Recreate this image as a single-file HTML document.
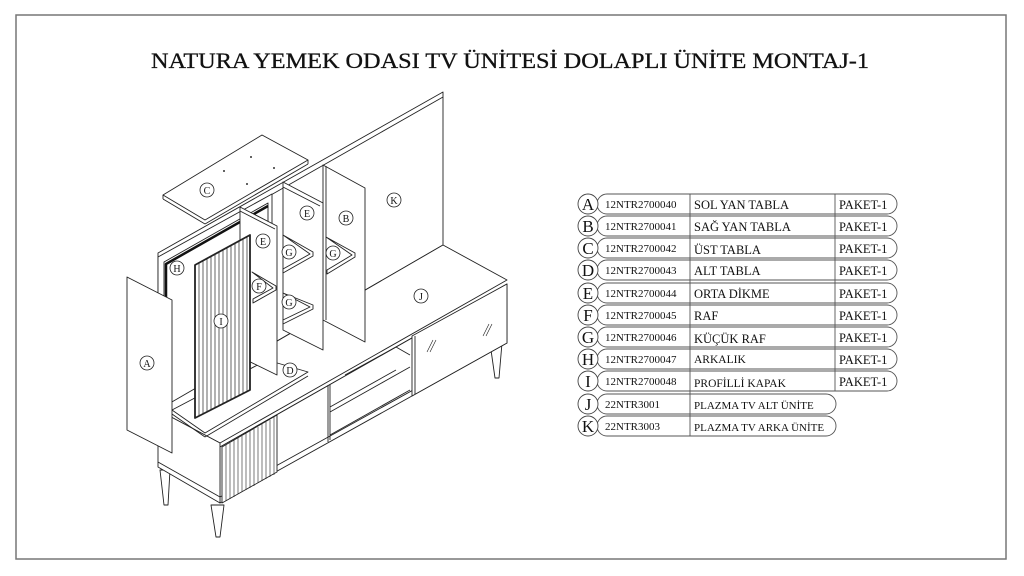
<!DOCTYPE html>
<html><head><meta charset="utf-8"><style>
html,body{margin:0;padding:0;background:#fff;}
svg{display:block;}
text{font-family:"Liberation Serif",serif;fill:#111;}
</style></head><body>
<svg width="1024" height="576" viewBox="0 0 1024 576" xmlns="http://www.w3.org/2000/svg">
<rect x="16" y="15" width="990" height="544" fill="#fff" stroke="#777" stroke-width="1.5"/>
<text x="510" y="68" font-size="22" text-anchor="middle" textLength="718" lengthAdjust="spacingAndGlyphs" stroke="#111" stroke-width="0.3">NATURA YEMEK ODASI TV ÜNİTESİ  DOLAPLI ÜNİTE MONTAJ-1</text>

<g stroke="#222" stroke-width="0.9" fill="#fff" stroke-linejoin="round">
<!-- K back panel -->
<polygon points="158,253 443,92 443,245 158,410"/>
<line x1="162" y1="257" x2="443" y2="97"/>
<!-- H back -->
<polygon points="158,257 272,194 272,355 158,420"/>
<polygon points="164,262 268,203 268,356 164,416" fill="#fff"/>
<polyline points="166,420 166,264 268,206" fill="none" stroke="#111" stroke-width="2.5"/>
<!-- legs -->
<polygon points="160,470 170,470 168,505 164,505"/>
<polygon points="211,505 224,505 220,537 216,537"/>
<polygon points="490,343 502,343 499,378 495,378"/>
<!-- J top face -->
<polygon points="443,245 507,280 220,443 158,410"/>
<line x1="220" y1="447" x2="507" y2="284"/>
<!-- front face -->
<polygon points="220,447 507,284 507,343 220,503"/>
<polygon points="158,410 220,443 220,503 158,467"/>
<line x1="158" y1="462" x2="220" y2="497"/>
<line x1="220" y1="497" x2="507" y2="338"/>
<!-- fluted door -->
<polygon points="222,447 277,415 277,472 222,503"/>
<g stroke-width="0.6">
<line x1="226" y1="445" x2="226" y2="501"/><line x1="230" y1="443" x2="230" y2="499"/><line x1="234" y1="440" x2="234" y2="497"/><line x1="238" y1="438" x2="238" y2="494"/><line x1="242" y1="436" x2="242" y2="492"/><line x1="246" y1="433" x2="246" y2="490"/><line x1="250" y1="431" x2="250" y2="488"/><line x1="254" y1="429" x2="254" y2="486"/><line x1="258" y1="427" x2="258" y2="483"/><line x1="262" y1="424" x2="262" y2="481"/><line x1="266" y1="422" x2="266" y2="479"/><line x1="270" y1="420" x2="270" y2="477"/><line x1="274" y1="417" x2="274" y2="475"/>
</g>
<!-- middle door -->
<line x1="328" y1="385" x2="328" y2="442"/>
<!-- open section -->
<line x1="330" y1="384" x2="330" y2="440"/>
<polyline points="345,375 396,347 410,355" fill="none"/>
<line x1="330" y1="407" x2="396" y2="370"/>
<line x1="330" y1="412" x2="410" y2="367"/>
<line x1="330" y1="435" x2="410" y2="390"/>
<!-- glass door -->
<polygon points="412,336 507,284 507,343 412,396"/>
<line x1="415" y1="336" x2="415" y2="394"/>
<g stroke-width="0.6"><line x1="427" y1="352" x2="433" y2="340"/><line x1="430" y1="352" x2="436" y2="340"/><line x1="483" y1="336" x2="489" y2="324"/><line x1="486" y1="336" x2="492" y2="324"/></g>
<!-- B -->
<polygon points="323,165 365,188 365,342 323,320"/>
<line x1="326" y1="166" x2="326" y2="320"/>
<!-- right G -->
<polygon points="326,237 355,253 355,257 327,274 327,270 352,255"/>
<!-- E rear -->
<polygon points="283,182 323,203 323,350 283,330"/>
<line x1="283" y1="187" x2="320" y2="206"/>
<!-- G shelves -->
<polygon points="283,235 313,252 313,256 283,273 283,269 310,254"/>
<polygon points="283,293 313,305 313,309 283,324 283,320 310,307"/>
<!-- D bottom -->
<polygon points="172,410 267,360 308,372 205,433"/>
<line x1="172" y1="414" x2="205" y2="437"/><line x1="205" y1="437" x2="308" y2="376"/>
<!-- E front -->
<polygon points="240,207 277,226 277,375 240,357"/>
<line x1="240" y1="211" x2="275" y2="229"/>
<!-- F -->
<polygon points="252,272 276,286 276,290 253,303 253,299 273,288"/>
<!-- I fluted -->
<polygon points="195,265 250,235 250,390 195,418" fill="#fff" stroke-width="1.8"/>
<g stroke-width="0.7">
<line x1="199" y1="263" x2="199" y2="416"/><line x1="203" y1="261" x2="203" y2="414"/><line x1="207" y1="259" x2="207" y2="412"/><line x1="211" y1="256" x2="211" y2="410"/><line x1="215" y1="254" x2="215" y2="408"/><line x1="219" y1="252" x2="219" y2="406"/><line x1="223" y1="250" x2="223" y2="404"/><line x1="227" y1="248" x2="227" y2="402"/><line x1="231" y1="246" x2="231" y2="400"/><line x1="235" y1="244" x2="235" y2="398"/><line x1="239" y1="241" x2="239" y2="396"/><line x1="243" y1="239" x2="243" y2="394"/><line x1="247" y1="237" x2="247" y2="392"/>
</g>
<!-- A -->
<polygon points="127,277 172,300 172,453 127,430"/>
<!-- C -->
<polygon points="163,195 262,135 308,160 205,220"/>
<line x1="163" y1="199" x2="205" y2="224"/><line x1="205" y1="224" x2="308" y2="164"/><line x1="308" y1="160" x2="308" y2="164"/><line x1="163" y1="195" x2="163" y2="199"/>
</g>
<g fill="#333"><circle cx="251" cy="157" r="1"/><circle cx="224" cy="171" r="1"/><circle cx="274" cy="168" r="1"/><circle cx="247" cy="184" r="1"/></g>

<g font-size="11" text-anchor="middle" fill="#fff" stroke="#222" stroke-width="0.8">
<circle cx="207" cy="190" r="7"/><circle cx="307" cy="213" r="7"/><circle cx="346" cy="218" r="7"/><circle cx="394" cy="200" r="7"/><circle cx="263" cy="241" r="7"/><circle cx="289" cy="252" r="7"/><circle cx="333" cy="253" r="7"/><circle cx="177" cy="268" r="7"/><circle cx="259" cy="286" r="7"/><circle cx="421" cy="296" r="7"/><circle cx="289" cy="302" r="7"/><circle cx="221" cy="321" r="7"/><circle cx="147" cy="363" r="7"/><circle cx="290" cy="370" r="7"/>
</g>
<g font-size="10" text-anchor="middle">
<text x="207" y="194">C</text><text x="307" y="217">E</text><text x="346" y="222">B</text><text x="394" y="204">K</text><text x="263" y="245">E</text><text x="289" y="256">G</text><text x="333" y="257">G</text><text x="177" y="272">H</text><text x="259" y="290">F</text><text x="421" y="300">J</text><text x="289" y="306">G</text><text x="221" y="325">I</text><text x="147" y="367">A</text><text x="290" y="374">D</text>
</g>

<g stroke="#555" stroke-width="0.9" fill="none">
<path d="M607,194 H887 a10,10 0 0 1 0,20 H607 a10,10 0 0 1 0,-20 Z"/>
<path d="M607,216 H887 a10,10 0 0 1 0,20 H607 a10,10 0 0 1 0,-20 Z"/>
<path d="M607,238 H887 a10,10 0 0 1 0,20 H607 a10,10 0 0 1 0,-20 Z"/>
<path d="M607,260 H887 a10,10 0 0 1 0,20 H607 a10,10 0 0 1 0,-20 Z"/>
<path d="M607,283 H887 a10,10 0 0 1 0,20 H607 a10,10 0 0 1 0,-20 Z"/>
<path d="M607,305 H887 a10,10 0 0 1 0,20 H607 a10,10 0 0 1 0,-20 Z"/>
<path d="M607,327 H887 a10,10 0 0 1 0,20 H607 a10,10 0 0 1 0,-20 Z"/>
<path d="M607,349 H887 a10,10 0 0 1 0,20 H607 a10,10 0 0 1 0,-20 Z"/>
<path d="M607,371 H887 a10,10 0 0 1 0,20 H607 a10,10 0 0 1 0,-20 Z"/>
<path d="M607,394 H826 a10,10 0 0 1 0,20 H607 a10,10 0 0 1 0,-20 Z"/>
<path d="M607,416 H826 a10,10 0 0 1 0,20 H607 a10,10 0 0 1 0,-20 Z"/>
<line x1="835" y1="194" x2="835" y2="391"/>
<line x1="690" y1="194" x2="690" y2="436"/>
</g>
<g stroke="#444" stroke-width="0.9" fill="#fff">
<circle cx="588" cy="204" r="10"/><circle cx="588" cy="226" r="10"/><circle cx="588" cy="248" r="10"/><circle cx="588" cy="270" r="10"/><circle cx="588" cy="293" r="10"/><circle cx="588" cy="315" r="10"/><circle cx="588" cy="337" r="10"/><circle cx="588" cy="359" r="10"/><circle cx="588" cy="381" r="10"/><circle cx="588" cy="404" r="10"/><circle cx="588" cy="426" r="10"/>
</g>
<g font-size="17" text-anchor="middle">
<text x="588" y="210">A</text><text x="588" y="232">B</text><text x="588" y="254">C</text><text x="588" y="276">D</text><text x="588" y="299">E</text><text x="588" y="321">F</text><text x="588" y="343">G</text><text x="588" y="365">H</text><text x="588" y="387">I</text><text x="588" y="410">J</text><text x="588" y="432">K</text>
</g>
<g font-size="11">
<text x="605" y="208">12NTR2700040</text><text x="605" y="230">12NTR2700041</text><text x="605" y="252">12NTR2700042</text><text x="605" y="274">12NTR2700043</text><text x="605" y="297">12NTR2700044</text><text x="605" y="319">12NTR2700045</text><text x="605" y="341">12NTR2700046</text><text x="605" y="363">12NTR2700047</text><text x="605" y="385">12NTR2700048</text><text x="605" y="408">22NTR3001</text><text x="605" y="430">22NTR3003</text>
</g>
<g font-size="12.5">
<text x="694" y="209">SOL YAN TABLA</text><text x="694" y="231">SAĞ YAN TABLA</text><text x="694" y="254">ÜST TABLA</text><text x="694" y="275">ALT TABLA</text><text x="694" y="298">ORTA DİKME</text><text x="694" y="320">RAF</text><text x="694" y="343">KÜÇÜK RAF</text><text x="694" y="363" font-size="11.5">ARKALIK</text><text x="694" y="387" font-size="11.5">PROFİLLİ KAPAK</text><text x="694" y="409" font-size="11">PLAZMA TV ALT ÜNİTE</text><text x="694" y="431" font-size="11">PLAZMA TV ARKA ÜNİTE</text>
</g>
<g font-size="12.5">
<text x="839" y="209">PAKET-1</text><text x="839" y="231">PAKET-1</text><text x="839" y="253">PAKET-1</text><text x="839" y="275">PAKET-1</text><text x="839" y="298">PAKET-1</text><text x="839" y="320">PAKET-1</text><text x="839" y="342">PAKET-1</text><text x="839" y="364">PAKET-1</text><text x="839" y="386">PAKET-1</text>
</g>
</svg>
</body></html>
